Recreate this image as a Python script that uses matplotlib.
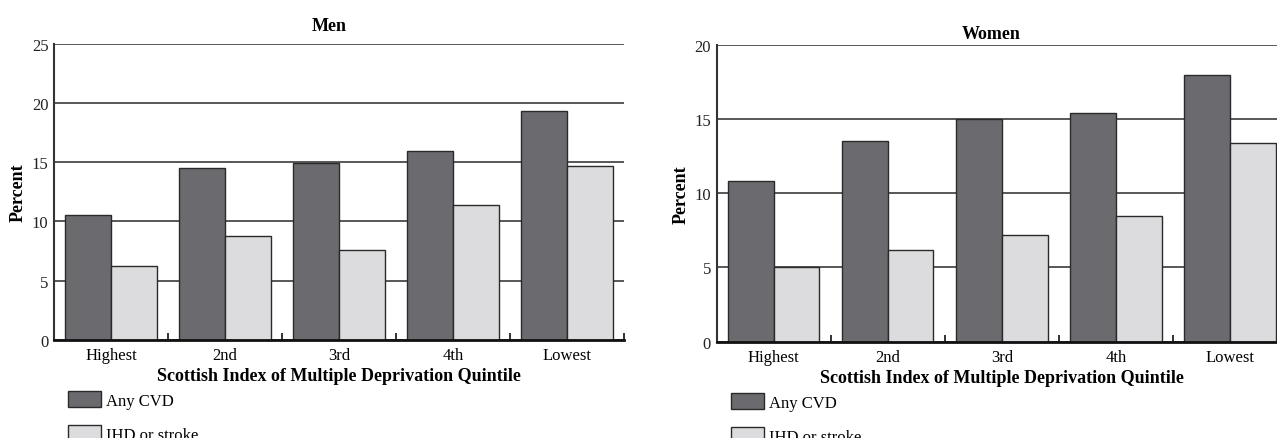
import matplotlib
matplotlib.use('Agg')
import matplotlib.pyplot as plt
import numpy as np

plt.rcParams['font.family'] = ['Liberation Serif', 'DejaVu Serif']

quintiles = ['Highest', '2nd', '3rd', '4th', 'Lowest']
men_any_cvd = [10.5, 14.5, 14.9, 15.9, 19.3]
men_ihd_stroke = [6.2, 8.8, 7.6, 11.4, 14.7]
women_any_cvd = [10.8, 13.5, 15.0, 15.4, 18.0]
women_ihd_stroke = [5.0, 6.2, 7.2, 8.5, 13.4]

dark = '#6b6b6f'
light = '#dcdcde'
edge = '#2a2a2a'

fig = plt.figure(figsize=(12.77, 4.39), dpi=100)
ax_men = fig.add_axes([0.0423, 0.2232, 0.4464, 0.6754])
ax_women = fig.add_axes([0.5612, 0.2194, 0.4467, 0.676])


def draw_panel(ax, title, any_cvd, ihd, ymax, title_pad):
    x = np.arange(len(quintiles))
    w = 0.4
    b1 = ax.bar(x - w / 2, any_cvd, w, color=dark, edgecolor=edge, linewidth=1.0,
                label='Any CVD', zorder=3)
    b2 = ax.bar(x + w / 2, ihd, w, color=light, edgecolor=edge, linewidth=1.0,
                label='IHD or stroke', zorder=3)
    ax.set_xlim(-0.5, 4.5)
    ax.set_ylim(0, ymax)
    ax.set_yticks(np.arange(0, ymax + 1, 5))
    ax.set_xticks(x)
    ax.set_xticklabels(quintiles)
    # small inward ticks between the quintile groups
    ax.set_xticks(np.arange(0.5, 5, 1), minor=True)
    ax.tick_params(axis='x', which='major', length=0, pad=5, labelsize=12)
    ax.tick_params(axis='x', which='minor', direction='in', length=5, width=1.3, color='#222222')
    ax.tick_params(axis='y', length=0, pad=4, labelsize=12, colors='#222222')
    ax.grid(axis='y', color='#4a4a4a', linewidth=1.3, zorder=0)
    ax.set_axisbelow(True)
    for s in ['top', 'right']:
        ax.spines[s].set_visible(False)
    ax.spines['left'].set_color('#333333')
    ax.spines['left'].set_linewidth(1.5)
    ax.spines['bottom'].set_color('#111111')
    ax.spines['bottom'].set_linewidth(2.0)
    ax.spines['bottom'].set_zorder(4)
    ax.set_title(title, fontsize=13, fontweight='bold', pad=title_pad, x=0.482)
    ax.set_ylabel('Percent', fontsize=13, fontweight='bold', labelpad=3.5)
    ax.set_xlabel('Scottish Index of Multiple Deprivation Quintile', fontsize=13,
                  fontweight='bold', labelpad=3)
    return b1, b2


h_men = draw_panel(ax_men, 'Men', men_any_cvd, men_ihd_stroke, 25, 10)
h_women = draw_panel(ax_women, 'Women', women_any_cvd, women_ihd_stroke, 20, 5)

for handles, anchor in [(h_men, (68 / 1277, 1 - 392 / 439)),
                        (h_women, (731 / 1277, 1 - 394 / 439))]:
    fig.legend(handles, ['Any CVD', 'IHD or stroke'], loc='upper left',
               bbox_to_anchor=anchor, frameon=False, fontsize=12,
               borderpad=0, borderaxespad=0, handlelength=2.0, handleheight=1.1,
               handletextpad=0.3, labelspacing=1.0)

fig.savefig('out.png', dpi=100)
